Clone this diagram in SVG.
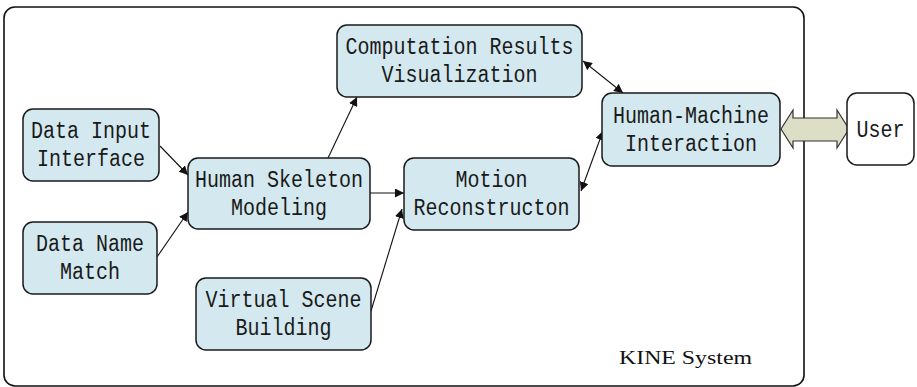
<svg xmlns="http://www.w3.org/2000/svg" width="917" height="387" viewBox="0 0 917 387">
  <style>
    .node { fill: #d3e9ef; stroke: #1a1a1a; stroke-width: 1.5; }
    .user { fill: #ffffff; stroke: #1a1a1a; stroke-width: 1.5; }
    .frame { fill: #ffffff; stroke: #111111; stroke-width: 1.6; }
    .lbl { font-family: "Liberation Mono", "DejaVu Sans Mono", monospace; font-size: 20px; fill: #1a1a1a; text-anchor: middle; }
    .cap { font-family: "Liberation Serif", "Times New Roman", serif; font-size: 19px; fill: #111111; }
    .edge { stroke: #111111; stroke-width: 1.1; fill: none; marker-end: url(#ah); }
    .edge2 { marker-start: url(#ahs); }
    .bigarrow { fill: #dcdfc6; stroke: #333333; stroke-width: 1.2; }
  </style>
  <defs>
    <marker id="ah" viewBox="0 0 10 10" refX="10" refY="5" markerWidth="9" markerHeight="9" markerUnits="userSpaceOnUse" orient="auto">
      <path d="M0,0 L10,5 L0,10 z" fill="#111111"/>
    </marker>
    <marker id="ahs" viewBox="0 0 10 10" refX="0" refY="5" markerWidth="9" markerHeight="9" markerUnits="userSpaceOnUse" orient="auto">
      <path d="M10,0 L0,5 L10,10 z" fill="#111111"/>
    </marker>
  </defs>

  <!-- system boundary -->
  <g id="kine-system">
    <rect class="frame" x="4" y="7" width="800" height="379" rx="11"/>
    <text class="cap" x="619" y="364" textLength="133" lengthAdjust="spacingAndGlyphs">KINE System</text>
  </g>

  <!-- connectors -->
  <g id="connectors">
    <line class="edge" x1="160" y1="146" x2="188" y2="175"/>
    <line class="edge" x1="157" y1="257" x2="188" y2="212"/>
    <line class="edge" x1="328" y1="158" x2="357" y2="97"/>
    <line class="edge" x1="370" y1="193" x2="404" y2="193"/>
    <line class="edge" x1="371" y1="311" x2="402" y2="209"/>
    <line class="edge edge2" x1="581" y1="191" x2="603" y2="131"/>
    <line class="edge edge2" x1="583" y1="61" x2="623" y2="93"/>
    <path class="bigarrow" d="M781,129 L793,110 L793,118 L837,118 L837,110 L849,129 L837,148 L837,141 L793,141 L793,148 Z"/>
  </g>

  <g id="data-input-interface">
    <rect class="node" x="23" y="109" width="136" height="72" rx="10"/>
    <text class="lbl" transform="translate(91,138) scale(1,1.15)">Data Input</text>
    <text class="lbl" transform="translate(91,166) scale(1,1.15)">Interface</text>
  </g>

  <g id="data-name-match">
    <rect class="node" x="23" y="222" width="134" height="72" rx="10"/>
    <text class="lbl" transform="translate(90,251) scale(1,1.15)">Data Name</text>
    <text class="lbl" transform="translate(90,279) scale(1,1.15)">Match</text>
  </g>

  <g id="human-skeleton-modeling">
    <rect class="node" x="188" y="158" width="182" height="71" rx="10"/>
    <text class="lbl" transform="translate(279,187) scale(1,1.15)">Human Skeleton</text>
    <text class="lbl" transform="translate(279,215) scale(1,1.15)">Modeling</text>
  </g>

  <g id="virtual-scene-building">
    <rect class="node" x="196" y="278" width="175" height="72" rx="10"/>
    <text class="lbl" transform="translate(283.5,307) scale(1,1.15)">Virtual Scene</text>
    <text class="lbl" transform="translate(283.5,335) scale(1,1.15)">Building</text>
  </g>

  <g id="computation-results-visualization">
    <rect class="node" x="337" y="25" width="245" height="72" rx="10"/>
    <text class="lbl" transform="translate(459.5,54) scale(1,1.15)">Computation Results</text>
    <text class="lbl" transform="translate(459.5,82) scale(1,1.15)">Visualization</text>
  </g>

  <g id="motion-reconstruction">
    <rect class="node" x="404" y="158" width="175" height="72" rx="10"/>
    <text class="lbl" transform="translate(491.5,187) scale(1,1.15)">Motion</text>
    <text class="lbl" transform="translate(491.5,215) scale(1,1.15)">Reconstructon</text>
  </g>

  <g id="human-machine-interaction">
    <rect class="node" x="602" y="93" width="178" height="73" rx="10"/>
    <text class="lbl" transform="translate(691,122.5) scale(1,1.15)">Human-Machine</text>
    <text class="lbl" transform="translate(691,150.5) scale(1,1.15)">Interaction</text>
  </g>

  <g id="user">
    <rect class="user" x="847" y="93" width="67" height="72" rx="10"/>
    <text class="lbl" transform="translate(880.5,137) scale(1,1.15)">User</text>
  </g>
</svg>
